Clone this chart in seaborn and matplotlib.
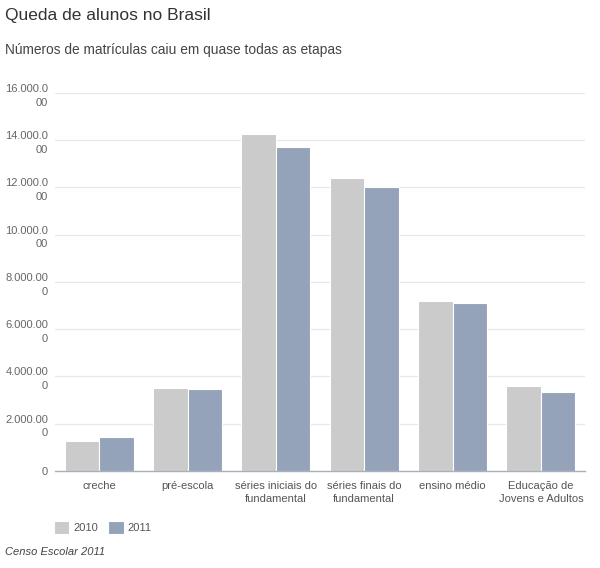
import pandas as pd
import matplotlib.pyplot as plt
import seaborn as sns

etapas = ['creche', 'pré-escola', 'séries iniciais do\nfundamental', 'séries finais do\nfundamental',
          'ensino médio', 'Educação de\nJovens e Adultos']
matriculas_2010 = [1280000, 3500000, 14250000, 12390000, 7200000, 3590000]
matriculas_2011 = [1420000, 3490000, 13730000, 12040000, 7120000, 3350000]
anos = ['2010', '2011']
yticks = [0, 2000000, 4000000, 6000000, 8000000, 10000000, 12000000, 14000000, 16000000]
ytick_labels = ['0', '2.000.00\n0', '4.000.00\n0', '6.000.00\n0', '8.000.00\n0',
                '10.000.0\n00', '12.000.0\n00', '14.000.0\n00', '16.000.0\n00']

df = pd.DataFrame({
    'etapa': etapas * 2,
    'ano': [anos[0]] * len(etapas) + [anos[1]] * len(etapas),
    'matriculas': matriculas_2010 + matriculas_2011,
})

sns.set_theme(style='white')
plt.rcParams['font.family'] = ['Liberation Sans', 'DejaVu Sans']

fig = plt.figure(figsize=(6, 5.68), dpi=100)
ax = fig.add_axes([0.0917, 0.1708, 0.8833, 0.6655])

sns.barplot(data=df, x='etapa', y='matriculas', hue='ano', palette=['#cbcbcb', '#94a3ba'],
            width=0.78, edgecolor='white', linewidth=0.8, saturation=1, ax=ax)

ax.set_ylim(0, 16000000)
ax.set_xlim(-0.5, len(etapas) - 0.5)
ax.set_yticks(yticks)
ax.set_yticklabels(ytick_labels, fontsize=8, color='#666666', ha='right', linespacing=1.45)
ax.tick_params(axis='y', length=0, pad=5)
ax.tick_params(axis='x', length=0, pad=7, labelsize=8, labelcolor='#555555')
for lbl in ax.get_xticklabels():
    lbl.set_linespacing(1.45)
ax.set_xlabel('')
ax.set_ylabel('')
ax.grid(axis='y', color='#e8e8e8', linewidth=0.9)
ax.set_axisbelow(True)
for s in ['top', 'right', 'left']:
    ax.spines[s].set_visible(False)
ax.spines['bottom'].set_color('#aab0bb')
ax.spines['bottom'].set_linewidth(1)

handles, labels = ax.get_legend_handles_labels()
ax.get_legend().remove()
fig.legend(handles, labels, loc='center left', bbox_to_anchor=(0.073, 0.072), ncol=2, frameon=False,
           fontsize=8, labelcolor='#555555', handlelength=1.4, handleheight=1.4,
           handletextpad=0.35, columnspacing=0.9)

fig.text(0.009, 0.972, 'Queda de alunos no Brasil', fontsize=12.5, color='#333333', va='center')
fig.text(0.009, 0.912, 'Números de matrículas caiu em quase todas as etapas', fontsize=9.9,
         color='#444444', va='center')
fig.text(0.009, 0.028, 'Censo Escolar 2011', fontsize=8, style='italic', color='#444444', va='center')

fig.savefig('out.png', dpi=100)
